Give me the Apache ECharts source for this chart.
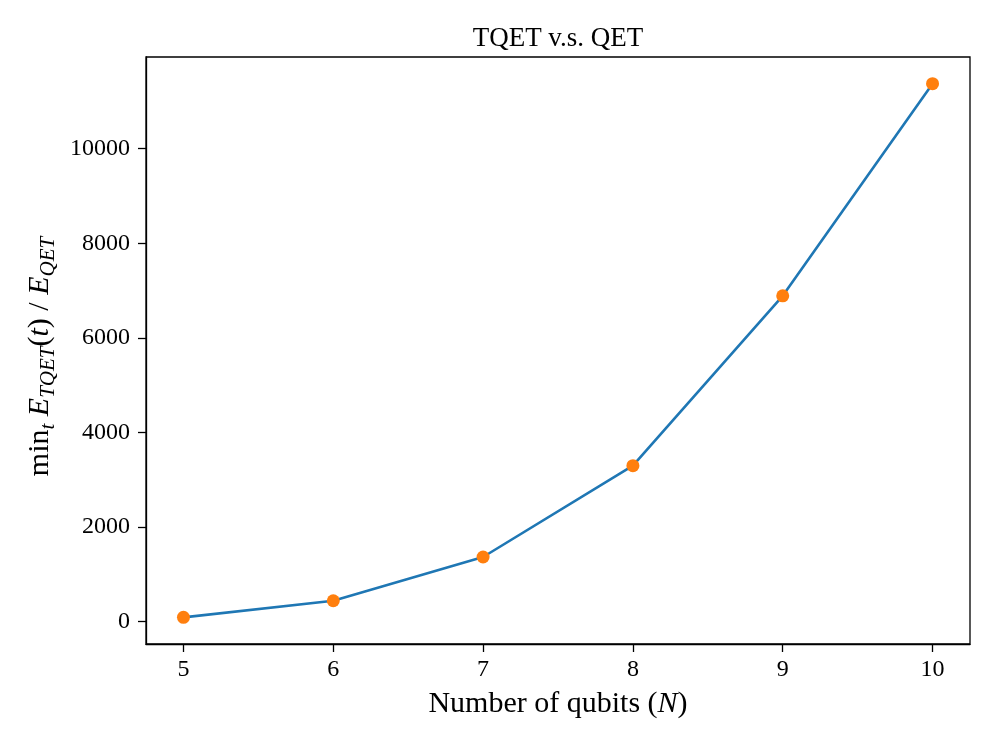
<!DOCTYPE html>
<html>
<head>
<meta charset="utf-8">
<script src="https://cdn.jsdelivr.net/npm/echarts@6/dist/echarts.min.js"></script>
<style>html,body{margin:0;padding:0;background:#fff;}#c{width:996px;height:747px;}</style>
</head>
<body>
<div id="c"></div>
<script>
const qubits = [5, 6, 7, 8, 9, 10];
const ratio = [89, 440, 1365, 3297, 6889, 11376];
const xTicks = [5, 6, 7, 8, 9, 10];
const yTicks = [0, 2000, 4000, 6000, 8000, 10000];

const font = 'Liberation Serif, DejaVu Serif, serif';
const chart = echarts.init(document.getElementById('c'), null, {renderer: 'canvas'});
chart.setOption({
  backgroundColor: '#fff',
  animation: false,
  title: {
    text: 'TQET v.s. QET', left: 553, top: 20, textAlign: 'center',
    textStyle: {fontFamily: font, fontSize: 27, fontWeight: 'normal', color: '#000'}
  },
  grid: {left: 146, right: 26, top: 57, bottom: 103, show: true, borderColor: '#000', borderWidth: 1.3, backgroundColor: 'transparent'},
  xAxis: {
    type: 'value', min: 4.75, max: 10.25,
    name: '{n|Number of qubits (}{i|N}{n|)}', nameLocation: 'middle', nameGap: 45,
    nameTextStyle: {rich: {
      n: {fontFamily: font, fontSize: 30, color: '#000'},
      i: {fontFamily: font, fontSize: 30, fontStyle: 'italic', color: '#000'}
    }},
    axisLine: {show: true, onZero: false, lineStyle: {color: '#000', width: 1.3}},
    axisTick: {show: true, length: 8, customValues: xTicks, lineStyle: {color: '#000', width: 1.3}},
    axisLabel: {customValues: xTicks, formatter: v => String(v), fontFamily: font, fontSize: 24, color: '#000', margin: 14},
    splitLine: {show: false}
  },
  yAxis: {
    type: 'value', min: -475, max: 11940,
    name: '{n|min}{s|t}{i| E}{s|TQET}{n|(}{i|t}{n|) / }{i|E}{s|QET}{sp|}', nameLocation: 'middle', nameGap: 76, nameRotate: 90,
    nameTextStyle: {rich: {
      n: {fontFamily: font, fontSize: 30, color: '#000', lineHeight: 38, verticalAlign: 'middle'},
      i: {fontFamily: font, fontSize: 30, fontStyle: 'italic', color: '#000', lineHeight: 38, verticalAlign: 'middle'},
      s: {fontFamily: font, fontSize: 21, fontStyle: 'italic', color: '#000', lineHeight: 38, verticalAlign: 'bottom', padding: [12, 0, 0, 0]},
      sp: {width: 12, lineHeight: 38}
    }},
    axisLine: {show: true, onZero: false, lineStyle: {color: '#000', width: 1.3}},
    axisTick: {show: true, length: 8, customValues: yTicks, lineStyle: {color: '#000', width: 1.3}},
    axisLabel: {customValues: yTicks, formatter: v => String(v), fontFamily: font, fontSize: 24, color: '#000', margin: 16},
    splitLine: {show: false}
  },
  series: [{
    type: 'line',
    data: qubits.map((q, i) => [q, ratio[i]]),
    symbol: 'circle', symbolSize: 13,
    lineStyle: {color: '#1f77b4', width: 2.6},
    itemStyle: {color: '#ff7f0e', borderWidth: 0}
  }]
});
</script>
</body>
</html>
